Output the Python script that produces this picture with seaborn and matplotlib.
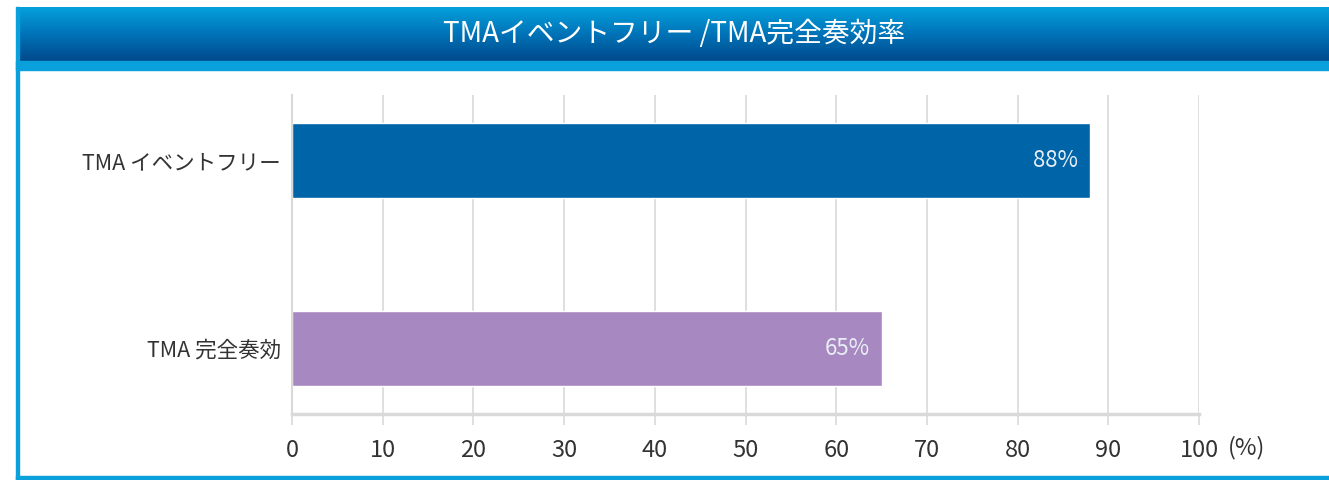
import numpy as np
import pandas as pd
import seaborn as sns
import matplotlib.pyplot as plt
from matplotlib.patches import Rectangle
from matplotlib.colors import LinearSegmentedColormap
from matplotlib.transforms import blended_transform_factory

sns.set_style("white")
plt.rcParams['font.family'] = ['Noto Sans CJK JP', 'DejaVu Sans']

# データ
categories = ['TMA イベントフリー', 'TMA 完全奏効']
values = [88, 65]
bar_colors = ['#0064a8', '#a788c0']
title = 'TMAイベントフリー /TMA完全奏効率'
xticks = [0, 10, 20, 30, 40, 50, 60, 70, 80, 90, 100]

df = pd.DataFrame({'項目': categories, '割合': values})

W, H = 1329, 480
fig = plt.figure(figsize=(W / 100, H / 100), dpi=100)

# 枠とヘッダー（ピクセル座標 -> figure座標）
def fx(px):
    return px / W

def fy(py):
    return 1 - py / H

frame_col = '#0aa0dc'
fig.patches.append(Rectangle((fx(16), fy(480)), fx(3), fy(7) - fy(480),
                             transform=fig.transFigure, color=frame_col, zorder=0))
fig.patches.append(Rectangle((fx(16), fy(480)), 1, fy(476) - fy(480),
                             transform=fig.transFigure, color=frame_col, zorder=0))
fig.patches.append(Rectangle((fx(16), fy(70)), 1, fy(61) - fy(70),
                             transform=fig.transFigure, color=frame_col, zorder=0))

hax = fig.add_axes([fx(19), fy(61), 1 - fx(19), fy(7) - fy(61)])
grad = LinearSegmentedColormap.from_list('hdr', ['#05a0dc', '#0073b8', '#004a8c'])
hax.imshow(np.linspace(0, 1, 100).reshape(-1, 1), aspect='auto', cmap=grad,
           extent=[0, 1, 0, 1])
hax.set_axis_off()
hax.text(0.5, 0.5, title, color='white', fontsize=20, ha='center', va='center',
         transform=hax.transAxes)

# 棒グラフ
ax = fig.add_axes([fx(292), fy(414), fx(1199) - fx(292), fy(95) - fy(414)])
sns.barplot(data=df, x='割合', y='項目', hue='項目', palette=bar_colors,
            width=0.4, legend=False, ax=ax, saturation=1)

ax.set_xlim(0, 100)
ax.set_ylim(1.35, -0.35)
ax.set_xticks(xticks)
ax.set_xticklabels([str(t) for t in xticks])
ax.set_xlabel('')
ax.set_ylabel('')
ax.grid(axis='x', color='#d9d9d9', linewidth=1.2)
ax.set_axisbelow(True)
for s in ['top', 'right']:
    ax.spines[s].set_visible(False)
ax.spines['left'].set_color('#d9d9d9')
ax.spines['left'].set_linewidth(1.5)
ax.spines['bottom'].set_color('#d9d9d9')
ax.spines['bottom'].set_linewidth(2.5)
ax.tick_params(axis='x', length=8, width=1.2, color='#d9d9d9', labelsize=17,
               labelcolor='#333333', pad=10, bottom=True)
ax.tick_params(axis='y', length=0, labelsize=15.5, labelcolor='#333333', pad=8)

# 単位 (%)
trans = blended_transform_factory(ax.transData, ax.transAxes)
ax.text(103.2, -0.105, '(%)', transform=trans, fontsize=17, color='#333333',
        ha='left', va='center')

for p, v in zip(ax.patches, values):
    ax.text(p.get_width() - 1.3, p.get_y() + p.get_height() / 2, f'{v}%',
            color='#e8eef5', fontsize=16, ha='right', va='center')

fig.savefig('out.png', dpi=100)
